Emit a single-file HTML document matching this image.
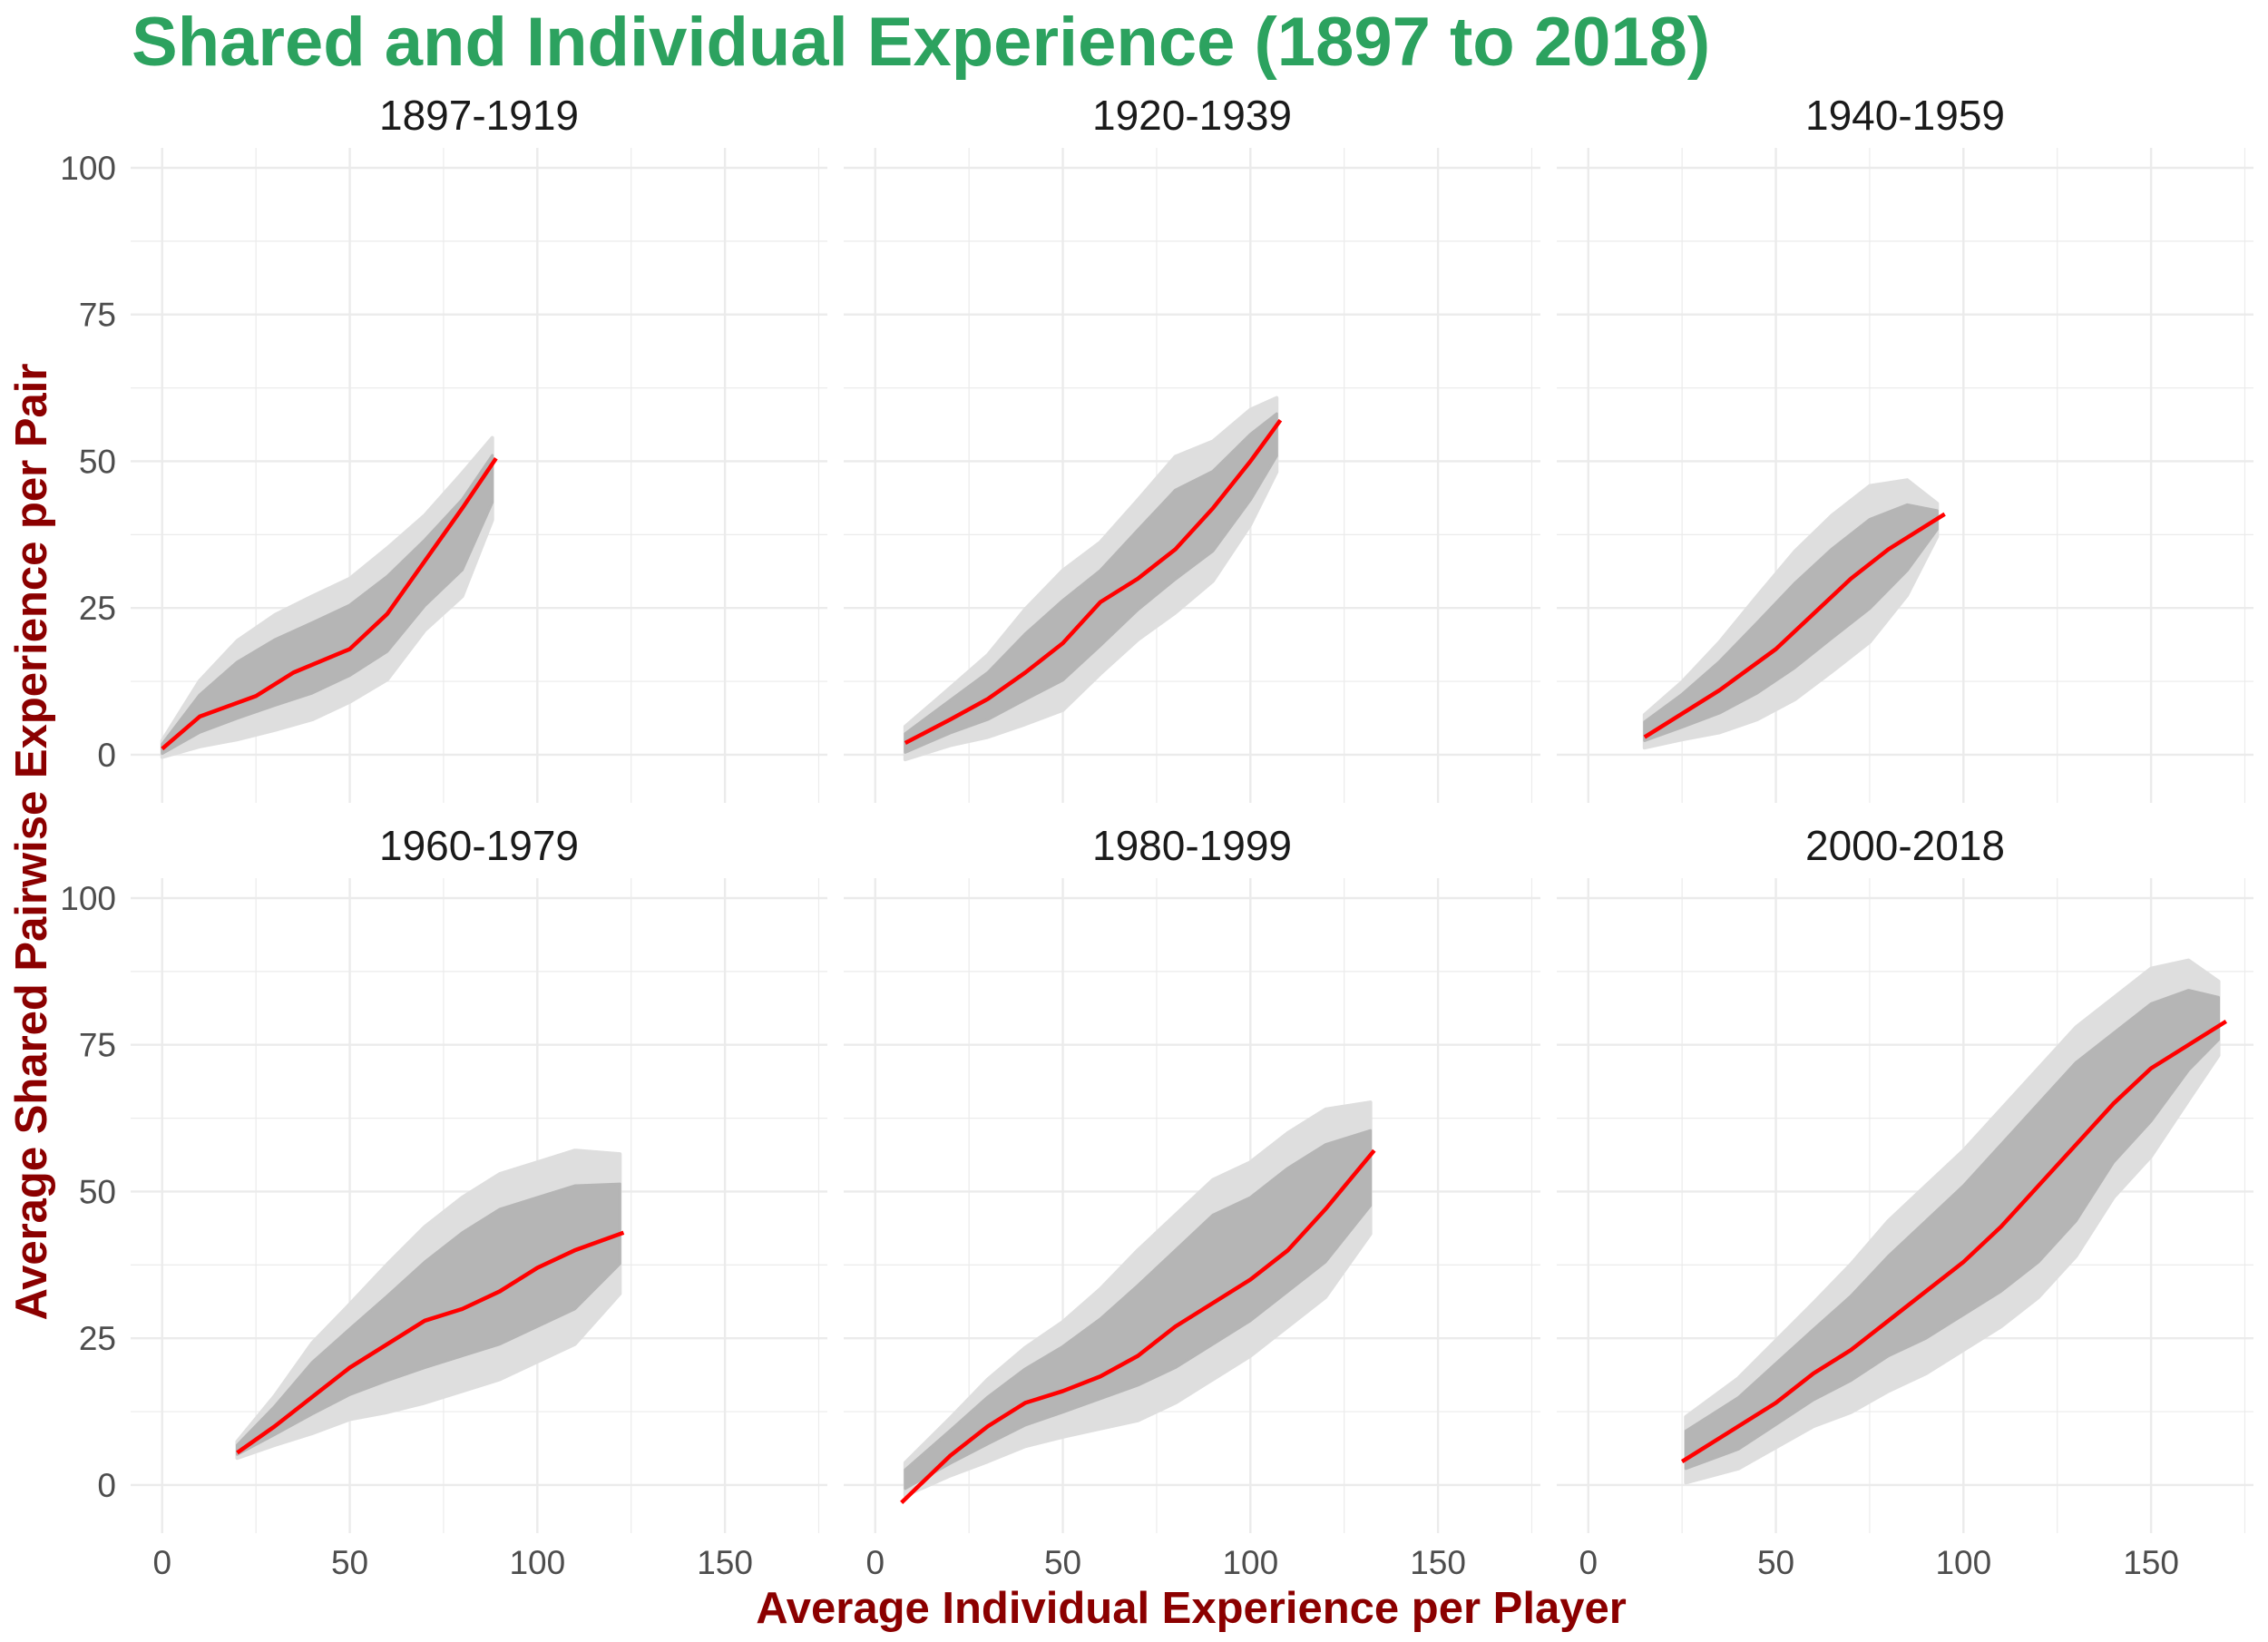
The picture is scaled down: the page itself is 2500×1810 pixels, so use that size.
<!DOCTYPE html>
<html><head><meta charset="utf-8">
<style>
html,body{margin:0;padding:0;background:#fff;}
svg{display:block;font-family:"Liberation Sans",Arial,sans-serif;}
</style></head>
<body>
<svg id="chart" width="2500" height="1810" viewBox="0 0 2500 1810" xmlns="http://www.w3.org/2000/svg">
<text x="145" y="72" font-size="76" font-weight="bold" fill="#2ca25f">Shared and Individual Experience (1897 to 2018)</text>
<text x="1313" y="1789" font-size="49" font-weight="bold" fill="#8b0000" text-anchor="middle">Average Individual Experience per Player</text>
<text transform="translate(51,928) rotate(-90)" font-size="49" font-weight="bold" fill="#8b0000" text-anchor="middle">Average Shared Pairwise Experience per Pair</text>
<g id="panels"></g>
</svg>
<script>
const panelTitles = ["1897-1919","1920-1939","1940-1959","1960-1979","1980-1999","2000-2018"];
const xTicks = [0,50,100,150];
const yTicks = [0,25,50,75,100];
// envelope of the point cloud: x, lower y, upper y (core dense region)
const cloudX = [
 [0,10,20,30,40,50,60,70,80,88],
 [8,20,30,40,50,60,70,80,90,100,107],
 [15,25,35,45,55,65,75,85,93],
 [20,30,40,50,60,70,80,90,100,110,122],
 [8,20,30,40,50,60,70,80,90,100,110,120,132],
 [26,40,50,60,70,80,90,100,110,120,130,140,150,160,168]
];
const cloudLow = [
 [0,3,5,7,9,12,16,24,30,42],
 [0,3,5,8,11,17,23,28,33,42,50],
 [2,4,6,9,13,18,23,30,38],
 [5,8,11,14,16,18,20,22,25,28,36],
 [-1,3,6,9,11,13,15,18,22,26,31,36,46],
 [2,5,9,13,16,20,23,27,31,36,43,53,60,69,75]
];
const cloudHigh = [
 [2,11,17,21,24,27,32,38,45,52],
 [4,10,15,22,28,33,40,47,50,56,59],
 [6,11,17,24,31,37,42,44,42],
 [7,14,22,28,34,40,45,49,51,53,53],
 [3,10,16,21,25,30,36,42,48,51,56,60,62],
 [10,16,22,28,34,41,47,53,60,67,74,79,84,86,84]
];
// smoothed trend line
const lineX = [
 [0,10,25,35,50,60,70,80,89],
 [8,20,30,40,50,60,70,80,90,100,108],
 [15,25,35,50,60,70,80,95],
 [20,30,40,50,60,70,80,90,100,110,123],
 [7,20,30,40,50,60,70,80,90,100,110,120,133],
 [25,40,50,60,70,80,90,100,110,120,130,140,150,160,170]
];
const lineY = [
 [1,6.5,10,14,18,24,33,42,50.5],
 [2,6,9.5,14,19,26,30,35,42,50,57],
 [3,7,11,18,24,30,35,41],
 [5.5,10,15,20,24,28,30,33,37,40,43],
 [-3,5,10,14,16,18.5,22,27,31,35,40,47,57],
 [4,10,14,19,23,28,33,38,44,51,58,65,71,75,79]
];

const NS="http://www.w3.org/2000/svg";
const root=document.getElementById('panels');
const PW=768, xMin=-8.4, xMax=177.3, yMin=-8.2, yMax=103.4;
const rowTop=[163,968], PH=722;
function mk(tag,attrs,parent){const e=document.createElementNS(NS,tag);for(const k in attrs)e.setAttribute(k,attrs[k]);parent.appendChild(e);return e;}
for(let p=0;p<6;p++){
  const col=p%3,row=Math.floor(p/3);
  const L=144+786*col, T=rowTop[row];
  const sx=v=>L+(v-xMin)/(xMax-xMin)*PW;
  const sy=v=>T+PH-(v-yMin)/(yMax-yMin)*PH;
  const g=mk('g',{},root);
  
  
  for(let v=-25;v<=200;v+=25){ if(v<xMin||v>xMax)continue;
    const major=v%50===0;
    const gl=mk('line',{x1:sx(v),x2:sx(v),y1:T,y2:T+PH,stroke:'#ebebeb','stroke-width':major?2.4:1.2},g);
    
    
  }
  for(let v=0;v<=100;v+=12.5){
    const major=v%25===0;
    const gl=mk('line',{x1:L,x2:L+PW,y1:sy(v),y2:sy(v),stroke:'#ebebeb','stroke-width':major?2.4:1.2},g);
    
    
  }
  const st=mk('text',{x:L+PW/2,y:T-20,'font-size':46,'text-anchor':'middle',fill:'#1a1a1a'},g);
  st.textContent=panelTitles[p];
  
  
  const xs=cloudX[p],lo=cloudLow[p],hi=cloudHigh[p];
  const pad=(i)=>Math.min(4,(hi[i]-lo[i])*0.2);
  const ptsO=[],ptsC=[];
  for(let i=0;i<xs.length;i++){ptsO.push(sx(xs[i])+','+sy(hi[i]+pad(i)));ptsC.push(sx(xs[i])+','+sy(hi[i]-pad(i)*0.5));}
  for(let i=xs.length-1;i>=0;i--){ptsO.push(sx(xs[i])+','+sy(lo[i]-pad(i)));ptsC.push(sx(xs[i])+','+sy(lo[i]+pad(i)*0.5));}
  const po=mk('polygon',{points:ptsO.join(' '),fill:'#dedede','stroke':'#dedede','stroke-width':4,'stroke-linejoin':'round'},g);
  
  
  const pc=mk('polygon',{points:ptsC.join(' '),fill:'#b5b5b5','stroke':'#b5b5b5','stroke-width':3,'stroke-linejoin':'round'},g);
  
  
  const d=lineX[p].map((x,i)=>(i?'L':'M')+sx(x)+','+sy(lineY[p][i])).join(' ');
  const tl=mk('path',{d:d,fill:'none',stroke:'#ff0000','stroke-width':4.5,'stroke-linejoin':'round','stroke-linecap':'butt'},g);
  
  
  if(col===0){
    yTicks.forEach(v=>{
      const t=mk('text',{x:128,y:sy(v)+13,'font-size':37,'text-anchor':'end',fill:'#4d4d4d'},g);
      t.textContent=v;
      
      
    });
  }
  if(row===1){
    xTicks.forEach(v=>{
      const t=mk('text',{x:sx(v),y:1735,'font-size':37,'text-anchor':'middle',fill:'#4d4d4d'},g);
      t.textContent=v;
      
      
    });
  }
}
</script>
</body></html>
